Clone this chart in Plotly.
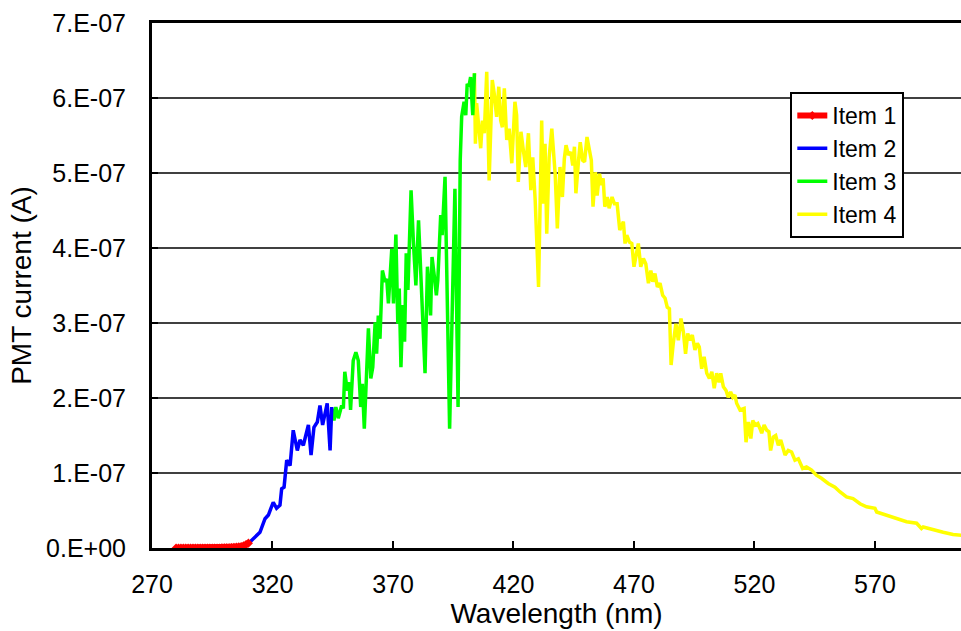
import plotly.graph_objects as go

SCALE = 1e-7  # y values below are in units of 1e-7 A

item1_x = [280, 281, 282, 283, 284, 285, 286, 287, 288, 289, 290, 291, 292, 293, 294, 295,
           296, 297, 298, 299, 300, 301, 302, 303, 304, 305, 306, 307, 308, 309, 310]
item1_y = [0.0, 0.0, 0.0, 0.0, 0.0, 0.0, 0.0, 0.0, 0.0, 0.0, 0.0, 0.0, 0.0, 0.0, 0.0, 0.0,
           0.0, 0.0, 0.0, 0.001, 0.002, 0.003, 0.004, 0.006, 0.008, 0.011, 0.015, 0.02, 0.03, 0.045, 0.065]

item2_x = [310.0, 310.7, 312.5, 314.8, 316.9, 318.3, 320.3, 321.7, 323.1, 323.8, 324.8, 325.9, 327.3,
           328.6, 330.3, 331.4, 332.8, 334.2, 334.9, 336.0, 337.2, 338.6, 339.7, 340.8, 341.8,
           342.7, 343.9, 344.6]
item2_y = [0.06, 0.08, 0.14, 0.21, 0.39, 0.44, 0.61, 0.53, 0.57, 0.79, 0.81, 1.17, 1.10,
           1.57, 1.30, 1.44, 1.37, 1.57, 1.64, 1.24, 1.61, 1.68, 1.90, 1.64, 1.77,
           1.93, 1.30, 1.88]

item3_x = [344.6, 345.5, 346.3, 347.3, 348.7, 349.4, 350.0, 351.0, 351.8, 352.4, 353.5, 354.6,
           355.6, 356.6, 357.3, 358.1, 359.8, 360.8, 361.6, 362.6, 363.2, 363.9, 364.6, 365.6,
           366.7, 367.4, 368.1, 369.5, 370.2, 371.2, 372.0, 372.6, 373.3, 374.1, 374.8, 375.5,
           376.2, 377.5, 378.5, 379.5, 380.6, 381.6, 383.3, 384.3, 385.0, 385.6, 386.2, 387.2,
           388.0, 388.6, 389.8, 390.4, 391.6, 393.5, 395.7, 397.0, 397.9, 398.5, 399.5, 400.2,
           400.8, 401.5, 402.2, 403.1, 403.8]
item3_y = [1.86, 1.70, 1.88, 1.73, 1.90, 1.86, 2.35, 2.10, 2.21, 1.84, 2.50, 2.61,
           2.50, 1.88, 2.19, 1.59, 2.93, 2.26, 2.41, 3.01, 2.59, 3.10, 2.79, 3.70,
           3.55, 3.59, 3.26, 3.99, 3.26, 4.18, 2.99, 3.46, 2.41, 3.24, 2.75, 3.93,
           3.44, 4.77, 4.06, 3.50, 4.37, 3.53, 2.33, 3.75, 3.48, 3.10, 3.88, 3.61,
           3.37, 3.57, 4.44, 4.17, 4.95, 1.59, 4.79, 1.88, 5.17, 5.75, 5.95, 5.77,
           6.19, 6.15, 6.28, 5.77, 6.33]

item4_x = [403.8, 404.2, 404.7, 405.7, 406.4, 407.1, 407.9, 408.9, 409.9, 411.2, 412.0, 413.0,
           413.9, 414.7, 415.4, 416.2, 417.2, 418.2, 419.3, 420.6, 421.3, 422.0, 423.1, 424.1,
           425.1, 426.2, 427.2, 428.0, 429.0, 430.4, 431.0, 431.7, 432.4, 433.1, 433.8, 434.8,
           435.9, 437.3, 438.2, 439.3, 440.3, 441.1, 441.8, 442.8, 443.8, 444.6, 445.3, 445.9,
           447.0, 447.7, 448.7, 449.5, 450.5, 451.2, 452.3, 453.0, 454.0, 454.7, 455.7, 456.5,
           457.2, 457.9, 458.9, 459.7, 460.9, 461.9, 463.0, 464.1, 465.6, 466.3, 467.0, 468.1,
           469.1, 470.0, 470.8, 471.8, 472.8, 473.9, 474.9, 476.0, 477.0, 477.8, 478.7, 479.7,
           480.8, 481.9, 482.9, 483.8, 484.7, 485.4, 486.3, 487.4, 488.4, 489.5, 490.5, 491.4,
           492.3, 493.2, 494.2, 495.3, 496.3, 497.1, 498.1, 499.1, 500.2, 501.3, 502.3, 503.3,
           504.3, 505.3, 506.0, 507.1, 508.2, 509.1, 510.1, 511.0, 511.9, 512.6, 514.0, 515.7,
           516.5, 517.5, 518.5, 519.3, 520.3, 521.4, 522.3, 523.0, 524.0, 525.1, 526.0, 526.7,
           527.8, 528.8, 529.9, 530.9, 532.7, 534.0, 535.4, 536.8, 538.2, 540.0, 541.6, 543.7,
           545.7, 547.8, 550.6, 553.4, 555.4, 558.2, 560.9, 563.8, 566.5, 570.0, 570.7, 574.8,
           579.0, 583.1, 587.3, 589.3, 590.0, 594.2, 598.3, 602.4, 606.0]
item4_y = [6.33, 5.39, 5.93, 5.53, 5.33, 5.70, 5.53, 6.35, 4.90, 6.24, 6.06, 5.75,
           6.15, 5.70, 5.61, 6.13, 5.44, 5.59, 5.13, 5.95, 5.77, 4.88, 5.55, 5.30,
           5.08, 5.53, 4.77, 5.21, 4.64, 3.48, 4.41, 5.70, 4.59, 5.39, 4.19, 5.21,
           5.59, 4.99, 4.26, 5.08, 4.68, 5.19, 5.37, 5.24, 5.28, 5.10, 5.35, 4.73,
           5.17, 5.41, 5.17, 5.15, 5.48, 5.37, 5.17, 4.55, 5.01, 4.70, 4.99, 4.84,
           4.93, 4.55, 4.68, 4.53, 4.68, 4.59, 4.59, 4.24, 4.35, 4.06, 4.17, 4.08,
           4.06, 3.75, 3.88, 4.06, 3.75, 3.86, 3.79, 3.53, 3.70, 3.55, 3.66, 3.48,
           3.53, 3.37, 3.33, 3.21, 3.19, 2.44, 2.73, 2.99, 2.77, 3.06, 2.88, 2.59,
           2.86, 2.77, 2.84, 2.64, 2.73, 2.68, 2.39, 2.55, 2.33, 2.26, 2.35, 2.13,
           2.33, 2.21, 2.33, 2.15, 2.10, 2.01, 2.08, 2.01, 2.04, 1.93, 1.84, 1.86,
           1.41, 1.68, 1.46, 1.70, 1.64, 1.66, 1.59, 1.53, 1.64, 1.57, 1.55, 1.30,
           1.48, 1.50, 1.37, 1.44, 1.24, 1.30, 1.28, 1.17, 1.19, 1.06, 1.08, 1.04,
           0.97, 0.93, 0.86, 0.81, 0.75, 0.68, 0.66, 0.59, 0.55, 0.53, 0.48, 0.44,
           0.39, 0.35, 0.33, 0.26, 0.28, 0.24, 0.21, 0.18, 0.17]

x_tickvals = [270, 320, 370, 420, 470, 520, 570]
y_tickvals = [0, 1, 2, 3, 4, 5, 6, 7]
y_ticktext = ["0.E+00", "1.E-07", "2.E-07", "3.E-07", "4.E-07", "5.E-07", "6.E-07", "7.E-07"]

FONT = "Liberation Sans, Arial, sans-serif"

def scaled(vals):
    return [v * SCALE for v in vals]

fig = go.Figure()
fig.add_trace(go.Scatter(x=item4_x, y=scaled(item4_y), name="Item 4", mode="lines",
                         line=dict(color="#FFFF00", width=3.5)))
fig.add_trace(go.Scatter(x=item3_x, y=scaled(item3_y), name="Item 3", mode="lines",
                         line=dict(color="#00FF00", width=3.5)))
fig.add_trace(go.Scatter(x=item2_x, y=scaled(item2_y), name="Item 2", mode="lines",
                         line=dict(color="#0000FF", width=3.5)))
fig.add_trace(go.Scatter(x=item1_x, y=scaled(item1_y), name="Item 1", mode="lines+markers",
                         line=dict(color="#FF0000", width=6),
                         marker=dict(symbol="diamond", size=7, color="#FF0000")))

fig.update_layout(
    width=961, height=631,
    margin=dict(l=152, r=0, t=23, b=83),
    paper_bgcolor="white", plot_bgcolor="white",
    font=dict(family=FONT, size=25, color="black"),
    showlegend=True,
    legend=dict(x=0.789, y=0.8686, xanchor="left", yanchor="top",
                bgcolor="white", bordercolor="black", borderwidth=2,
                traceorder="reversed", font=dict(size=23),
                itemwidth=30, tracegroupgap=0),
    xaxis=dict(range=[270, 605.7], tickvals=x_tickvals, ticks="inside", ticklen=7,
               tickwidth=2, tickcolor="black", showline=True, linecolor="black",
               linewidth=3, mirror=True, showgrid=False, zeroline=False,
               tickfont=dict(size=25), ticklabelstandoff=12,
               title=dict(text="Wavelength (nm)", font=dict(size=28), standoff=2)),
    yaxis=dict(range=[0, 7 * SCALE], tickvals=scaled(y_tickvals), ticktext=y_ticktext,
               ticks="inside", ticklen=6, tickwidth=2, tickcolor="black",
               showline=True, linecolor="black", linewidth=3, showgrid=True,
               gridcolor="#404040", gridwidth=2, zeroline=False,
               tickfont=dict(size=25), ticklabelstandoff=18,
               title=dict(text="PMT current (A)", font=dict(size=28), standoff=7)),
)

fig.write_html("out.html")
